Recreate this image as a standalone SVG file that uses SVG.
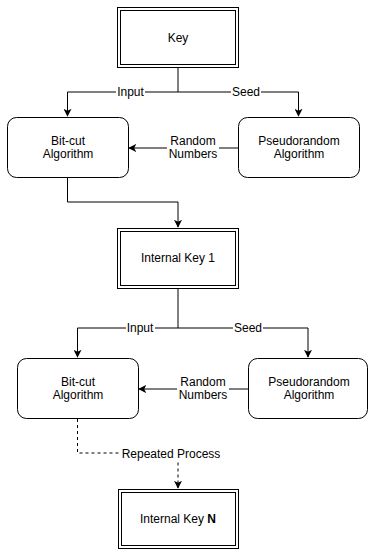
<svg xmlns="http://www.w3.org/2000/svg" width="368" height="551" viewBox="0 0 368 551">
<defs>
<marker id="arr" viewBox="0 0 10 10" refX="9" refY="5" markerWidth="8" markerHeight="8" markerUnits="userSpaceOnUse" orient="auto">
<path d="M0,0 L10,5 L0,10 L2.5,5 Z" fill="#000"/>
</marker>
<style>
text{font-family:"Liberation Sans",Arial,sans-serif;font-size:12px;fill:#000;text-anchor:middle;dominant-baseline:central}
.box{fill:#fff;stroke:#000;stroke-width:1}
.ln{fill:none;stroke:#000;stroke-width:1}
.dash{stroke-dasharray:3,3}
.bg{fill:#fff}
</style>
</defs>
<rect width="368" height="551" fill="#fff"/>
<g id="connectors">
<path class="ln" d="M178,67 V92 H67.5 V116" marker-end="url(#arr)"/>
<path class="ln" d="M178,92 H298.5 V116" marker-end="url(#arr)"/>
<path class="ln" d="M238,148 H129" marker-end="url(#arr)"/>
<path class="ln" d="M67.5,178 V202 H178 V227" marker-end="url(#arr)"/>
<path class="ln" d="M178,288 V328 H77.5 V357" marker-end="url(#arr)"/>
<path class="ln" d="M178,328 H308 V357" marker-end="url(#arr)"/>
<path class="ln" d="M248,389 H139" marker-end="url(#arr)"/>
<path class="ln dash" d="M77.5,419 V453 H178 V488" marker-end="url(#arr)"/>
<rect class="bg" x="116" y="85" width="29" height="14"/>
<text x="130.5" y="92">Input</text>
<rect class="bg" x="231" y="85" width="30" height="14"/>
<text x="246" y="92">Seed</text>
<rect class="bg" x="167" y="134" width="52" height="28"/>
<text x="193" y="141">Random</text>
<text x="193" y="154">Numbers</text>
<rect class="bg" x="126" y="321" width="29" height="14"/>
<text x="140" y="328">Input</text>
<rect class="bg" x="233" y="321" width="30" height="14"/>
<text x="248" y="328">Seed</text>
<rect class="bg" x="177" y="375" width="52" height="28"/>
<text x="203" y="382">Random</text>
<text x="203" y="395">Numbers</text>
<rect class="bg" x="120" y="446" width="102" height="14"/>
<text x="171" y="453.5">Repeated Process</text>
</g>
<g id="key">
<rect class="box" x="117.5" y="7.5" width="121" height="60"/>
<rect class="box" x="120.5" y="10.5" width="115" height="54"/>
<text x="178" y="37.5">Key</text>
</g>
<g id="bitcut1">
<rect class="box" x="7.5" y="117.5" width="121" height="60" rx="9"/>
<text x="68" y="141">Bit-cut</text>
<text x="68" y="154">Algorithm</text>
</g>
<g id="pseudo1">
<rect class="box" x="238.5" y="117.5" width="121" height="60" rx="9"/>
<text x="299" y="141">Pseudorandom</text>
<text x="299" y="154">Algorithm</text>
</g>
<g id="internalkey1">
<rect class="box" x="117.5" y="228.5" width="121" height="60"/>
<rect class="box" x="120.5" y="231.5" width="115" height="54"/>
<text x="178" y="258">Internal Key 1</text>
</g>
<g id="bitcut2">
<rect class="box" x="17.5" y="358.5" width="121" height="60" rx="9"/>
<text x="78" y="382">Bit-cut</text>
<text x="78" y="395">Algorithm</text>
</g>
<g id="pseudo2">
<rect class="box" x="248.5" y="358.5" width="119" height="60" rx="9"/>
<text x="309" y="382">Pseudorandom</text>
<text x="309" y="395">Algorithm</text>
</g>
<g id="internalkeyN">
<rect class="box" x="118.5" y="489.5" width="120" height="59"/>
<rect class="box" x="121.5" y="492.5" width="114" height="53"/>
<text x="178" y="519">Internal Key <tspan font-weight="bold">N</tspan></text>
</g>
</svg>
